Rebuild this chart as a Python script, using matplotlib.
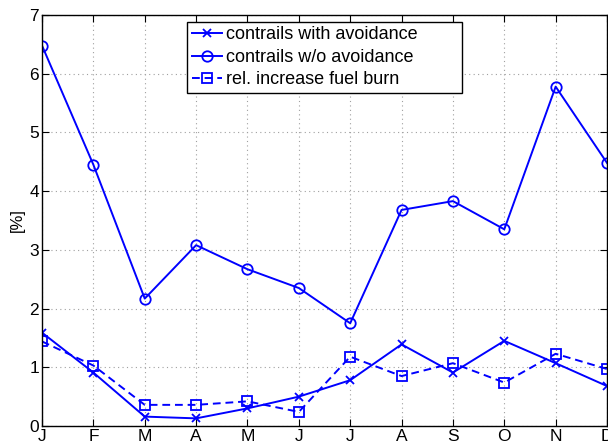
import matplotlib
matplotlib.use("Agg")
import matplotlib.pyplot as plt
import numpy as np

plt.rcParams['font.family'] = ['Liberation Sans', 'DejaVu Sans']

months = ['J', 'F', 'M', 'A', 'M', 'J', 'J', 'A', 'S', 'O', 'N', 'D']
with_avoid = [1.59, 0.91, 0.16, 0.13, 0.30, 0.50, 0.78, 1.39, 0.91, 1.45, 1.07, 0.68]
without_avoid = [6.48, 4.45, 2.17, 3.08, 2.67, 2.35, 1.75, 3.68, 3.83, 3.35, 5.78, 4.48]
fuel_burn = [1.44, 1.03, 0.36, 0.36, 0.42, 0.24, 1.18, 0.85, 1.07, 0.74, 1.23, 0.97]

x = np.arange(len(months))

fig = plt.figure(figsize=(6.08, 4.45), dpi=100)
ax = fig.add_axes([0.0691, 0.0427, 0.9293, 0.9236])

blue = '#0000ff'
ax.plot(x, with_avoid, '-', color=blue, marker='x', markersize=6, mew=1.3,
        lw=1.4, label='contrails with avoidance')
ax.plot(x, without_avoid, '-', color=blue, marker='o', markersize=7.5, mfc='none',
        mew=1.3, lw=1.4, label='contrails w/o avoidance')
ax.plot(x, fuel_burn, '--', color=blue, marker='s', markersize=7, mfc='none',
        mew=1.3, lw=1.4, dashes=(4, 2.5), label='rel. increase fuel burn')

ax.set_xlim(0, 11)
ax.set_ylim(0, 7)
ax.set_xticks(x)
ax.set_xticklabels(months)
ax.set_yticks(range(8))
ax.tick_params(direction='in', top=True, right=True, labelsize=12.5, length=5, pad=2)
ax.grid(True, color='#a0a0a0', linestyle=(0, (1, 3)), linewidth=0.8)
for s in ax.spines.values():
    s.set_linewidth(1.0)
ax.set_ylabel('[%]', fontsize=12, labelpad=3)

# MATLAB-style legend box, wider than its text
leg = ax.legend(loc='upper left', bbox_to_anchor=(0.257, 0.815, 0.487, 0.168),
                mode='expand', borderaxespad=0,
                fontsize=13, handlelength=1.65, handletextpad=0.25, labelspacing=0.3,
                borderpad=0.25, fancybox=False, framealpha=1, edgecolor='black')
leg.get_frame().set_linewidth(1.0)

fig.savefig('out.png', dpi=100)
